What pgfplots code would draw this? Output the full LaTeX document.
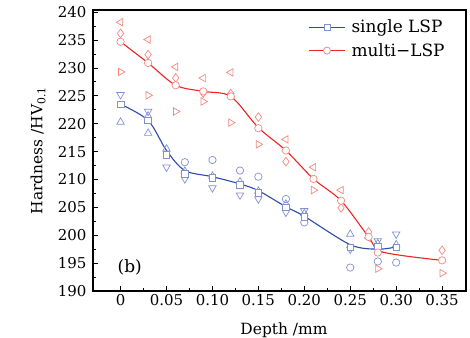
\documentclass[border=0pt]{standalone}
\usepackage{fontspec}
\setmainfont{DejaVu Serif}
\usepackage{pgfplots}
\pgfplotsset{compat=1.18}
\definecolor{bline}{RGB}{45,75,170}
\definecolor{bmark}{RGB}{130,145,210}
\definecolor{rline}{RGB}{240,35,35}
\definecolor{rmark}{RGB}{245,135,125}
\begin{document}
\begin{tikzpicture}
\path[use as bounding box] (0,0) rectangle (470bp,338bp);
\begin{axis}[
  at={(93bp,47bp)}, anchor=south west,
  width=373bp, height=281bp, scale only axis,
  xmin=-0.03, xmax=0.376, ymin=190, ymax=240.4,
  xtick={0,0.05,0.10,0.15,0.20,0.25,0.30,0.35},
  xticklabels={0,0.05,0.10,0.15,0.20,0.25,0.30,0.35},
  ytick={190,195,200,205,210,215,220,225,230,235,240},
  minor x tick num=1, minor y tick num=1,
  tick align=inside, xtick pos=lower, ytick pos=left,
  major tick length=4.5bp, minor tick length=2.5bp,
  axis line style={line width=1.1bp},
  every tick/.style={black, line width=0.9bp},
  /pgf/number format/assume math mode=true,
  tick label style={font=\fontsize{15}{17}\selectfont},
  yticklabel style={xshift=-3bp},
  ylabel={Hardness /HV\textsubscript{0.1}},
  xlabel={Depth /mm},
  label style={font=\fontsize{15.5}{17}\selectfont},
  ylabel style={at={(axis description cs:-0.147,0.5)}, anchor=center, rotate=0},
  xlabel style={at={(axis description cs:0.512,-0.139)}, anchor=center},
  legend style={at={(0.577,0.972)}, anchor=north west, draw=none, fill=none,
    font=\fontsize{17}{19}\selectfont, row sep=5bp, column sep=4bp, inner sep=0pt},
  legend cell align=left,
  legend image code/.code={\draw[mark repeat=2,mark phase=2,#1] plot coordinates {(0bp,0bp) (18bp,0bp) (36bp,0bp)};},
  clip=false,
]
% legend entries
\addlegendimage{bline, line width=1.1bp, mark=square*, mark options={draw=bmark, fill=white, mark size=3bp, line width=0.8bp}}
\addlegendentry{single LSP}
\addlegendimage{rline, line width=1.1bp, mark=*, mark options={draw=rmark, fill=white, mark size=3.5bp, line width=0.8bp}}
\addlegendentry{multi−LSP}

% ---- blue scatter ----
\addplot[only marks, mark=o, mark size=3.7bp, draw=bmark, line width=0.7bp, forget plot] coordinates {
(0.07,213.1) (0.10,213.5) (0.13,211.6) (0.15,210.5) (0.18,206.5) (0.20,202.3) (0.25,194.2) (0.28,195.3) (0.30,195.1)};
\addplot[only marks, mark=triangle, mark size=4.3bp, draw=bmark, line width=0.7bp, forget plot] coordinates {
(0,220.3) (0.03,218.3) (0.03,221.4) (0.05,215.5) (0.07,211.5) (0.10,210.6) (0.13,209.6) (0.15,207.9) (0.18,205.6) (0.20,203.9) (0.25,200.2) (0.28,198.5) (0.30,198.3)};
\addplot[only marks, mark=triangle, mark size=4.3bp, mark options={rotate=180}, draw=bmark, line width=0.7bp, forget plot] coordinates {
(0,225.2) (0.03,222.2) (0.05,212.2) (0.07,210.1) (0.10,208.5) (0.13,207.2) (0.15,206.5) (0.18,204.1) (0.20,204.4) (0.25,197.5) (0.28,199.0) (0.30,200.2)};

% ---- red scatter ----
\addplot[only marks, mark=triangle, mark size=4.3bp, mark options={rotate=90}, draw=rmark, line width=0.7bp, forget plot] coordinates {
(0,238.2) (0.03,235.1) (0.06,230.2) (0.09,228.2) (0.12,229.2) (0.18,217.2) (0.21,212.2) (0.24,208.1) (0.27,199.5)};
\addplot[only marks, mark=triangle, mark size=4.3bp, mark options={rotate=-90}, draw=rmark, line width=0.7bp, forget plot] coordinates {
(0,229.3) (0.03,225.1) (0.06,222.2) (0.09,224.0) (0.12,220.2) (0.15,216.3) (0.21,208.1) (0.28,194.0) (0.35,193.2)};
\addplot[only marks, mark=diamond, mark size=4.3bp, draw=rmark, line width=0.7bp, forget plot] coordinates {
(0,236.2) (0.03,232.4) (0.06,228.2) (0.09,225.5) (0.12,225.4) (0.15,221.2) (0.18,213.2) (0.24,204.9) (0.27,200.6) (0.35,197.3)};

% ---- fitted lines ----
\addplot[bline, line width=1.1bp, smooth, forget plot] coordinates {
(0,223.5) (0.03,220.6) (0.05,215.2) (0.07,211.6) (0.10,210.5) (0.13,209.2) (0.15,208.0) (0.18,205.1) (0.20,203.4) (0.25,198.3) (0.28,197.5) (0.30,197.9)};
\addplot[rline, line width=1.1bp, smooth, forget plot] coordinates {
(0,234.7) (0.03,230.9) (0.06,226.9) (0.09,225.8) (0.12,224.9) (0.15,219.3) (0.18,215.2) (0.21,210.1) (0.24,206.2) (0.27,199.7) (0.285,197.0) (0.35,195.5)};

% ---- mean markers ----
\addplot[only marks, mark=square*, mark size=3.3bp, mark options={draw=bmark, fill=white, line width=0.7bp}, forget plot] coordinates {
(0,223.5) (0.03,220.6) (0.05,214.4) (0.07,211.0) (0.10,210.3) (0.13,209.0) (0.15,207.6) (0.18,205.0) (0.20,203.3) (0.25,197.8) (0.28,198.0) (0.30,197.8)};
\addplot[only marks, mark=*, mark size=3.7bp, mark options={draw=rmark, fill=white, line width=0.7bp}, forget plot] coordinates {
(0,234.7) (0.03,230.9) (0.06,226.9) (0.09,225.8) (0.12,224.9) (0.15,219.2) (0.18,215.2) (0.21,210.1) (0.24,206.2) (0.27,199.7) (0.28,196.9) (0.35,195.5)};

\node[font=\fontsize{17}{19}\selectfont] at (axis cs:0.01,194.3) {(b)};
\end{axis}
\end{tikzpicture}
\end{document}
